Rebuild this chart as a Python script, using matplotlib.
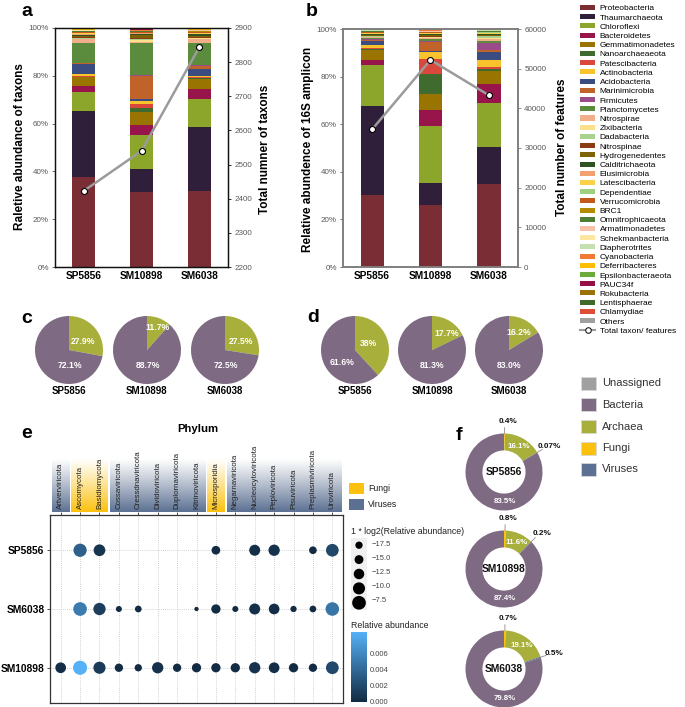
import numpy as np
import matplotlib
matplotlib.use('Agg')
import matplotlib.pyplot as plt
from matplotlib.patches import Rectangle, Patch
from matplotlib.lines import Line2D
from matplotlib.colors import LinearSegmentedColormap, Normalize, to_rgb
from matplotlib.ticker import FuncFormatter

plt.rcParams['font.family'] = ['Liberation Sans', 'DejaVu Sans']

# ---------------- data ----------------
samples = ['SP5856', 'SM10898', 'SM6038']

phyla = ['Proteobacteria', 'Thaumarchaeota', 'Chloroflexi', 'Bacteroidetes', 'Gemmatimonadetes',
         'Nanoarchaeaeota', 'Patescibacteria', 'Actinobacteria', 'Acidobacteria', 'Marinimicrobia',
         'Firmicutes', 'Planctomycetes', 'Nitrospirae', 'Zixibacteria', 'Dadabacteria', 'Nitrospinae',
         'Hydrogenedentes', 'Calditrichaeota', 'Elusimicrobia', 'Latescibacteria', 'Dependentiae',
         'Verrucomicrobia', 'BRC1', 'Omnitrophicaeota', 'Armatimonadetes', 'Schekmanbacteria',
         'Diapherotrites', 'Cyanobacteria', 'Deferribacteres', 'Epsilonbacteraeota', 'PAUC34f',
         'Rokubacteria', 'Lentisphaerae', 'Chlamydiae', 'Others']

phyla_colors = ['#7b2d35', '#301f3a', '#8ba62a', '#98154b', '#9a7400',
                '#3f6b2e', '#d9483b', '#f9c32d', '#3b4d80', '#c0632a',
                '#9b4a8a', '#5b8c3e', '#f2ad8a', '#fde08a', '#a8d28e', '#8c3b12',
                '#7d6305', '#2e5221', '#f2a070', '#fdd04a', '#9fcf80',
                '#c05a1d', '#b38a00', '#4e7d35', '#f7c2a8', '#fde6a0',
                '#c4dfb0', '#f07a35', '#fdbd00', '#6aab3c', '#960f45',
                '#9a7208', '#3e6b2a', '#dc4e38', '#a0a0a0']

# panel a: relative abundance of taxons (%), per sample
taxa_SP5856 = [37.5, 27.7, 8.1, 2.5, 3.6, 0.3, 0.3, 0.6, 4.5, 0.3, 0.1, 8.1, 1.7, 0.3, 0.3, 0.3,
               0.5, 0.5, 0.3, 0.2, 0.2, 0.3, 0.3, 0.3, 0.1, 0.1, 0.1, 0.2, 0.1, 0.2, 0.1, 0.2, 0.1, 0.1, 0.0]
taxa_SM10898 = [31.5, 9.5, 14.4, 3.9, 5.7, 1.4, 1.7, 1.4, 0.7, 9.8, 0.2, 13.7, 0.3, 0.9, 0.3, 0.5,
                1.3, 0.4, 0.2, 0.2, 0.1, 0.2, 0.1, 0.2, 0.1, 0.1, 0.1, 0.1, 0.1, 0.1, 0.4, 0.1, 0.1, 0.3, 0.0]
taxa_SM6038 = [31.9, 26.7, 11.6, 4.2, 4.2, 0.4, 0.4, 0.6, 2.9, 1.4, 0.2, 9.4, 1.5, 0.3, 0.3, 0.4,
               0.4, 0.5, 0.3, 0.2, 0.2, 0.4, 0.2, 0.3, 0.1, 0.1, 0.1, 0.1, 0.1, 0.1, 0.3, 0.1, 0.1, 0.2, 0.0]
taxa_totals = [2423, 2540, 2843]

# panel b: relative abundance of 16S amplicon (%)
amp_SP5856 = [30.2, 37.6, 16.9, 2.1, 4.2, 0.6, 0.4, 1.1, 1.8, 0.4, 0.3, 0.5, 0.4, 0.3, 0.2, 0.2,
              0.3, 0.2, 0.3, 0.2, 0.2, 0.3, 0.2, 0.2, 0.1, 0.1, 0.1, 0.2, 0.1, 0.1, 0.1, 0.1, 0.1, 0.1, 0.0]
amp_SM10898 = [26.0, 9.4, 23.9, 6.7, 6.8, 8.4, 6.3, 2.7, 0.7, 3.6, 0.6, 0.6, 0.5, 0.3, 0.3, 0.4,
               0.3, 0.3, 0.3, 0.3, 0.1, 0.1, 0.1, 0.2, 0.2, 0.1, 0.1, 0.1, 0.1, 0.1, 0.1, 0.1, 0.1, 0.1, 0.0]
amp_SM6038 = [34.7, 15.9, 18.1, 8.1, 5.6, 0.8, 1.0, 2.8, 3.2, 1.0, 3.1, 0.8, 0.5, 0.6, 0.8, 0.2,
              0.4, 0.2, 0.3, 0.3, 0.3, 0.1, 0.1, 0.2, 0.1, 0.1, 0.1, 0.1, 0.1, 0.1, 0.1, 0.1, 0.1, 0.1, 0.0]
feature_totals = [34700, 52200, 43300]

# panels c, d: archaea / bacteria share
c_archaea = [27.9, 11.7, 27.5]
c_bacteria = [72.1, 88.7, 72.5]
c_arch_labels = ['27.9%', '11.7%', '27.5%']
c_bact_labels = ['72.1%', '88.7%', '72.5%']
d_archaea = [38.0, 17.7, 16.2]
d_bacteria = [61.6, 81.3, 83.0]
d_arch_labels = ['38%', '17.7%', '16.2%']
d_bact_labels = ['61.6%', '81.3%', '83.0%']

# panel e: log2 relative abundance (None = absent)
e_phyla = ['Artverviricota', 'Ascomycota', 'Basidiomycota', 'Cossaviricota', 'Cressdnaviricota',
           'Dividoviricota', 'Duplornaviricota', 'Kitrinoviricota', 'Microsporidia', 'Negarnaviricota',
           'Nucleocytoviricota', 'Peploviricota', 'Pisuviricota', 'Preplasmiviricota', 'Uroviricota']
e_kingdom = ['Viruses', 'Fungi', 'Fungi', 'Viruses', 'Viruses', 'Viruses', 'Viruses', 'Viruses',
             'Fungi', 'Viruses', 'Viruses', 'Viruses', 'Viruses', 'Viruses', 'Viruses']
e_samples = ['SP5856', 'SM6038', 'SM10898']
log2_SP5856 = [None, -8.2, -10.6, None, None, None, None, None, -15.3, None, -11.7, -11.25, None, -16.9, -9.1]
log2_SM6038 = [None, -7.6, -9.7, -19.5, -18.4, None, None, -22.2, -14.4, -19.5, -11.7, -12.2, -19.1, -18.4, -7.7]
log2_SM10898 = [-12.2, -6.86, -9.9, -15.9, -17.5, -11.25, -15.9, -14.4, -14.4, -14.4, -11.25, -12.2, -14.4, -15.9, -9.0]
size_breaks = [-17.5, -15.0, -12.5, -10.0, -7.5]
color_breaks = [0.000, 0.002, 0.004, 0.006]

# panel f: domain composition
f_samples = ['SP5856', 'SM10898', 'SM6038']
f_fungi = [0.4, 0.8, 0.7]
f_archaea = [16.1, 11.6, 19.1]
f_viruses = [0.07, 0.2, 0.5]
f_bacteria = [83.5, 87.4, 79.8]
domains = ['Unassigned', 'Bacteria', 'Archaea', 'Fungi', 'Viruses']

# ---------------- style ----------------
C_UNASSIGNED = '#a0a0a0'
C_BACT = '#7f6a83'
C_ARCH = '#a8b03b'
C_FUNGI = '#fcc10e'
C_VIR = '#5b7092'
domain_colors = [C_UNASSIGNED, C_BACT, C_ARCH, C_FUNGI, C_VIR]
TICKC = '#595959'

W, H = 685, 707
fig = plt.figure(figsize=(W / 100, H / 100), dpi=100)


def ax_px(x0, y0, x1, y1, **kw):
    return fig.add_axes([x0 / W, 1 - y1 / H, (x1 - x0) / W, (y1 - y0) / H], **kw)


def ftext(x, y, s, **kw):
    return fig.text(x / W, 1 - y / H, s, **kw)


def stacked(ax, series, totals, ylim2, step2, spc, lw):
    x = np.arange(len(samples))
    bottom = np.zeros(len(samples))
    mat = np.array(series)
    for k in range(len(phyla)):
        ax.bar(x, mat[:, k], 0.4, bottom=bottom, color=phyla_colors[k], linewidth=0)
        bottom += mat[:, k]
    ax.set_xlim(-0.5, 2.5)
    ax.set_ylim(0, 100)
    ax.set_yticks(np.arange(0, 101, 20))
    ax.yaxis.set_major_formatter(FuncFormatter(lambda v, p: f'{v:.0f}%'))
    ax.set_xticks(x)
    ax.set_xticklabels(samples, fontsize=7.3, fontweight='bold')
    ax.tick_params(axis='y', labelsize=5.8, labelcolor=TICKC, length=2.5, width=0.6, color=TICKC, pad=2)
    ax.tick_params(axis='x', length=0, pad=3)
    ax2 = ax.twinx()
    ax2.plot(x, totals, color='#9b9b9b', lw=1.8, marker='o', ms=4.3, mfc='white', mec='black', mew=0.8, zorder=5)
    ax2.set_ylim(*ylim2)
    ax2.set_yticks(np.arange(ylim2[0], ylim2[1] + 1, step2))
    ax2.tick_params(axis='y', labelsize=5.8, labelcolor=TICKC, length=2.5, width=0.6, color=spc, pad=2)
    for a in (ax, ax2):
        for s in a.spines.values():
            s.set_color(spc)
            s.set_linewidth(lw)
    return ax2


# ---------------- panel a ----------------
axa = ax_px(55, 28, 228, 267)
stacked(axa, [taxa_SP5856, taxa_SM10898, taxa_SM6038], taxa_totals, (2200, 2900), 100, '#111111', 0.9)
ftext(20, 147, 'Raletive abundance of taxons', rotation=90, ha='center', va='center', fontsize=8.5, fontweight='bold')
ftext(265, 149, 'Total numner of taxons', rotation=90, ha='center', va='center', fontsize=8.5, fontweight='bold')

# ---------------- panel b ----------------
axb = ax_px(343, 29, 518, 267)
stacked(axb, [amp_SP5856, amp_SM10898, amp_SM6038], feature_totals, (0, 60000), 10000, '#7f7f7f', 1.2)
ftext(308, 149, 'Relative abundence of 16S amplicon', rotation=90, ha='center', va='center', fontsize=8.5, fontweight='bold')
ftext(562, 147, 'Total number of features', rotation=90, ha='center', va='center', fontsize=8.5, fontweight='bold')

handles = [Patch(facecolor=c, edgecolor='none', label=n) for n, c in zip(phyla, phyla_colors)]
handles.append(Line2D([0], [0], color='#9b9b9b', lw=1.5, marker='o', ms=4, mfc='white', mec='black', mew=0.7,
                      label='Total taxon/ features'))
fig.legend(handles=handles, loc='upper left', bbox_to_anchor=(580 / W, 1 - 5 / H), frameon=False,
           fontsize=6.0, labelspacing=0.21, handlelength=1.8, handleheight=0.55, handletextpad=0.55,
           borderpad=0, borderaxespad=0)

# ---------------- panels c, d ----------------
R = 34


def pie_panel(cx_list, arch, bact, alab, blab, aoff, boff):
    for i, cx in enumerate(cx_list):
        cy = 350
        ax = ax_px(cx - R, cy - R, cx + R, cy + R)
        ax.pie([arch[i], bact[i]], colors=[C_ARCH, C_BACT], startangle=90, counterclock=False,
               wedgeprops=dict(linewidth=0))
        ax.set_xlim(-1.0, 1.0)
        ax.set_ylim(-1.0, 1.0)
        ax.set_aspect('equal')
        ax.text(aoff[i][0], aoff[i][1], alab[i], color='white', fontsize=6.2, fontweight='bold', ha='center', va='center')
        ax.text(boff[i][0], boff[i][1], blab[i], color='white', fontsize=6.2, fontweight='bold', ha='center', va='center')
        ftext(cx, 391, samples[i], ha='center', va='center', fontsize=7, fontweight='bold')


pie_panel([69, 147, 225], c_archaea, c_bacteria, c_arch_labels, c_bact_labels,
          [(0.41, 0.26), (0.32, 0.65), (0.47, 0.26)], [(0.03, -0.47)] * 3)
pie_panel([355, 432, 509], d_archaea, d_bacteria, d_arch_labels, d_bact_labels,
          [(0.41, 0.18), (0.44, 0.5), (0.3, 0.52)], [(-0.38, -0.38), (0.0, -0.47), (0.0, -0.47)])

# ---------------- panel e ----------------
cmap_e = LinearSegmentedColormap.from_list('gg', ['#132B43', '#56B1F7'])
vals_e = [log2_SP5856, log2_SM6038, log2_SM10898]
all_rel = [2 ** v for row in vals_e for v in row if v is not None]
norm_e = Normalize(0, max(all_rel))


def dot_size(v):
    d_px = 7.3 + 0.64 * (np.asarray(v) + 17.5)
    return (d_px * 0.72) ** 2


axe = ax_px(50, 515, 343, 703)
axe.set_xlim(-0.55, len(e_phyla) - 0.45)
axe.set_ylim(len(e_samples) - 0.4, -0.6)
for i in range(len(e_phyla)):
    axe.axvline(i, color='#c4c4c4', lw=0.6, ls=(0, (1, 1.5)), zorder=0)
for j in range(len(e_samples)):
    axe.axhline(j, color='#c4c4c4', lw=0.6, ls=(0, (1, 1.5)), zorder=0)
for j, row in enumerate(vals_e):
    xs = [i for i, v in enumerate(row) if v is not None]
    vs = np.array([v for v in row if v is not None])
    axe.scatter(xs, [j] * len(xs), s=dot_size(vs), c=2 ** vs, cmap=cmap_e, norm=norm_e, linewidths=0, zorder=3)
axe.set_yticks(range(len(e_samples)))
axe.set_yticklabels(e_samples, fontsize=7.4, fontweight='bold')
axe.set_xticks(range(len(e_phyla)))
axe.set_xticklabels([])
axe.xaxis.tick_top()
axe.tick_params(axis='both', length=2, width=0.6, color='#333333', pad=2)
for s in axe.spines.values():
    s.set_color('#333333')
    s.set_linewidth(0.9)

# strips
axs = ax_px(50, 458, 343, 512)
axs.set_xlim(axe.get_xlim())
axs.set_ylim(0, 1)
axs.axis('off')
kcol = {'Fungi': C_FUNGI, 'Viruses': C_VIR}
runs = []
start = 0
for i in range(1, len(e_kingdom) + 1):
    if i == len(e_kingdom) or e_kingdom[i] != e_kingdom[start]:
        runs.append((start, i - 1, e_kingdom[start]))
        start = i
t = np.linspace(0, 1, 80)
for a0, a1, kg in runs:
    rgb = to_rgb(kcol[kg])
    img = np.zeros((80, 2, 4))
    img[:, :, :3] = rgb
    img[:, :, 3] = ((1 - t) ** 1.1)[:, None]
    axs.imshow(img, extent=[a0 - 0.45, a1 + 0.45, 0, 1], origin='lower', aspect='auto', interpolation='bilinear')
for i, name in enumerate(e_phyla):
    axs.text(i, 0.05, name, rotation=90, ha='center', va='bottom', fontsize=5.7, color='#222222')
ftext(198, 429, 'Phylum', ha='center', va='center', fontsize=8.2, fontweight='bold')

# e legends
for k, (lab, col) in enumerate([('Fungi', C_FUNGI), ('Viruses', C_VIR)]):
    y0 = 483 + k * 16
    fig.patches.append(Rectangle((349 / W, 1 - (y0 + 11) / H), 15 / W, 11 / H, transform=fig.transFigure,
                                 facecolor=col, edgecolor='none'))
    ftext(368, y0 + 5.5, lab, ha='left', va='center', fontsize=6.3, color='#222222')

ftext(351, 531, '1 * log2(Relative abundance)', ha='left', va='center', fontsize=6.3, color='#222222')
axl = ax_px(351, 538, 367, 610)
axl.set_facecolor('#f0f0f0')
axl.set_xlim(0, 1)
axl.set_ylim(len(size_breaks) - 0.5, -0.5)
axl.scatter([0.5] * len(size_breaks), range(len(size_breaks)), s=dot_size(size_breaks), color='black', linewidths=0)
axl.set_xticks([])
axl.set_yticks([])
for s in axl.spines.values():
    s.set_visible(False)
for k, b in enumerate(size_breaks):
    ftext(372, 545 + k * 13.8, f'\u2212{abs(b):.1f}', ha='left', va='center', fontsize=5.5, color='#444444')

ftext(351, 626, 'Relative abundance', ha='left', va='center', fontsize=6.3, color='#222222')
axc = ax_px(351, 632, 367, 702)
grad = np.linspace(0, norm_e.vmax, 200)[:, None]
axc.imshow(grad, cmap=cmap_e, norm=norm_e, origin='lower', aspect='auto', extent=[0, 1, 0, norm_e.vmax])
axc.set_xticks([])
axc.yaxis.tick_right()
axc.set_yticks(color_breaks)
axc.set_yticklabels([f'{v:.3f}' for v in color_breaks])
axc.tick_params(axis='y', labelsize=5.5, labelcolor='#444444', length=0, pad=2)
for s in axc.spines.values():
    s.set_visible(False)

# ---------------- panel f ----------------
RF = 38.5
centers_f = [(504, 472), (504, 569), (504, 669)]
for i, (cx, cy) in enumerate(centers_f):
    ax = ax_px(cx - RF - 20, cy - RF - 20, cx + RF + 20, cy + RF + 20)
    vals = [f_fungi[i], f_archaea[i], f_viruses[i], f_bacteria[i]]
    wedges, _ = ax.pie(vals, colors=[C_FUNGI, C_ARCH, C_VIR, C_BACT], startangle=90, counterclock=False,
                       radius=1.0, wedgeprops=dict(width=0.44, linewidth=0))
    lim = (RF + 20) / RF
    ax.set_xlim(-lim, lim)
    ax.set_ylim(-lim, lim)
    ax.set_aspect('equal')
    tot = sum(vals)
    cum = 0
    mids = []
    for v in vals:
        mids.append(90 - (cum + v / 2) / tot * 360)
        cum += v
    # fungi & viruses: outside labels with leaders
    for k in (0, 2):
        ang = np.deg2rad(mids[k])
        ax.plot([np.cos(ang) * 1.0, np.cos(ang) * 1.15], [np.sin(ang) * 1.0, np.sin(ang) * 1.15],
                color='#8c8c8c', lw=0.6)
        ax.text(np.cos(ang) * 1.32 + (0.08 if k == 0 else 0.05), np.sin(ang) * 1.3, f'{vals[k]:g}%',
                ha='center', va='center', fontsize=5.9, fontweight='bold', color='#111111')
    ang = np.deg2rad(mids[1])
    ax.text(np.cos(ang) * 0.78, np.sin(ang) * 0.76, f'{vals[1]:g}%', ha='center', va='center',
            fontsize=5.7, fontweight='bold', color='white')
    ax.text(0.02, -0.76, f'{vals[3]:g}%', ha='center', va='center', fontsize=5.7, fontweight='bold', color='white')
    ax.text(0, 0, f_samples[i], ha='center', va='center', fontsize=7.4, fontweight='bold', color='#111111')

for k, (lab, col) in enumerate(zip(domains, domain_colors)):
    y0 = 377 + k * 21.5
    fig.patches.append(Rectangle((581 / W, 1 - (y0 + 13) / H), 15 / W, 13 / H, transform=fig.transFigure,
                                 facecolor=col, edgecolor='#d8d8d8', linewidth=0.6))
    ftext(602, y0 + 6.5, lab, ha='left', va='center', fontsize=8, color='#333333')

# panel letters
for lab, x, y in [('a', 21, 16), ('b', 306, 16), ('c', 21, 323), ('d', 307, 322), ('e', 21, 438), ('f', 456, 440)]:
    ftext(x, y, lab, ha='left', va='baseline', fontsize=14, fontweight='bold')

fig.savefig('out.png', dpi=100)
